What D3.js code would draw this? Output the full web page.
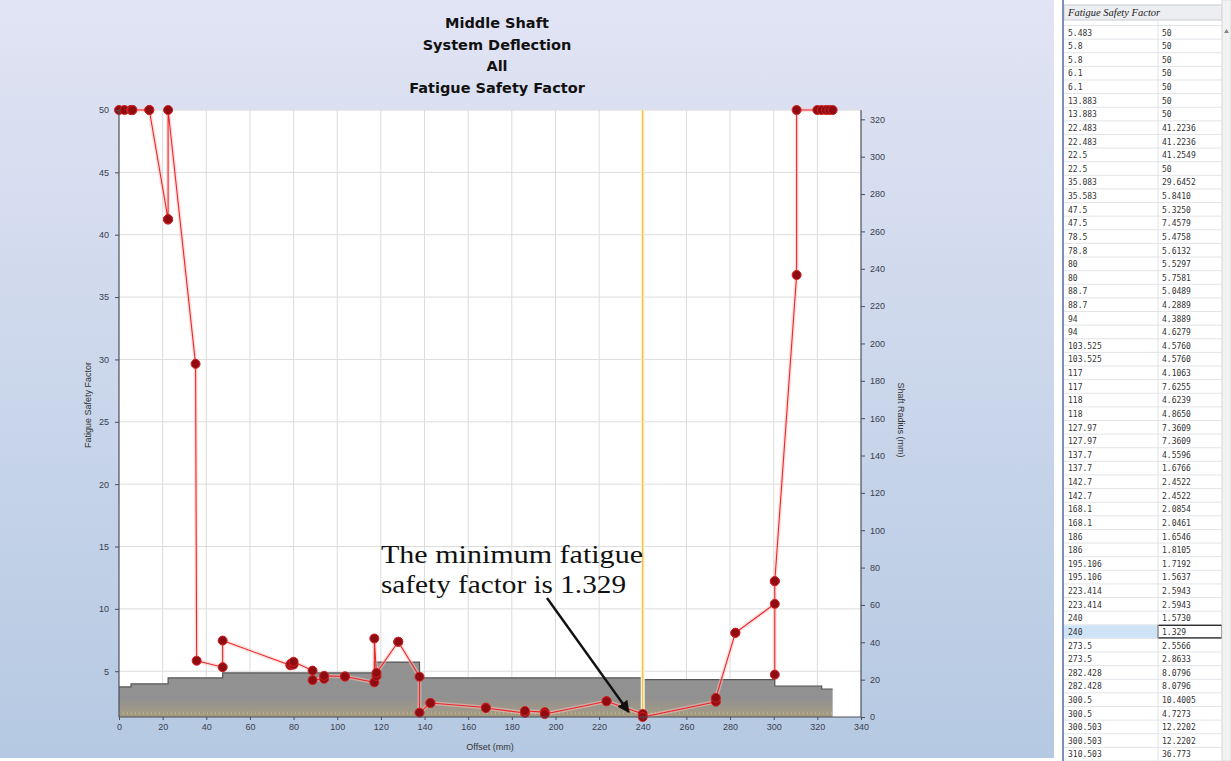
<!DOCTYPE html>
<html><head><meta charset="utf-8">
<script src="https://cdn.jsdelivr.net/npm/d3@7"></script>
<style>
html,body{margin:0;padding:0;background:#fff;}
svg{display:block;}
</style></head>
<body>
<svg id="c" width="1231" height="761"></svg>
<script>
// ---------- DATA ----------
const titleLines = ["Middle Shaft", "System Deflection", "All", "Fatigue Safety Factor"];
// fatigue safety factor curve (offset mm, factor)
const offsets = [0, 2.5, 5.483, 5.8, 5.8, 6.1, 6.1, 13.883, 13.883, 22.483, 22.483, 22.5, 22.5, 35.083, 35.583,
  47.5, 47.5, 78.5, 78.8, 80, 80, 88.7, 88.7, 94, 94, 103.525, 103.525, 117, 117, 118, 118, 127.97, 127.97,
  137.7, 137.7, 142.7, 142.7, 168.1, 168.1, 186, 186, 195.106, 195.106, 223.414, 223.414, 240, 240,
  273.5, 273.5, 282.428, 282.428, 300.5, 300.5, 300.503, 300.503, 310.503, 310.503, 320, 322, 324, 325.5, 327];
const factors = [50, 50, 50, 50, 50, 50, 50, 50, 50, 41.2236, 41.2236, 41.2549, 50, 29.6452, 5.8410,
  5.3250, 7.4579, 5.4758, 5.6132, 5.5297, 5.7581, 5.0489, 4.2889, 4.3889, 4.6279, 4.5760, 4.5760, 4.1063, 7.6255, 4.6239, 4.8650, 7.3609, 7.3609,
  4.5596, 1.6766, 2.4522, 2.4522, 2.0854, 2.0461, 1.6546, 1.8105, 1.7192, 1.5637, 2.5943, 2.5943, 1.5730, 1.329,
  2.5566, 2.8633, 8.0796, 8.0796, 10.4005, 4.7273, 12.2202, 12.2202, 36.773, 50, 50, 50, 50, 50, 50];
// shaft outer radius profile (step start offset, radius mm)
const shaftOffsets = [0, 5.5, 22.5, 47.5, 117, 137.7, 240, 300.5, 322, 327];
const shaftRadius  = [16.1, 17.7, 20.9, 23.6, 29.4, 20.9, 20.0, 16.6, 15.0, 15.0];
const xTicks = [0,20,40,60,80,100,120,140,160,180,200,220,240,260,280,300,320,340];
const yLeftTicks = [5,10,15,20,25,30,35,40,45,50];
const yRightTicks = [0,20,40,60,80,100,120,140,160,180,200,220,240,260,280,300,320];
const minOffset = 240, minFactor = 1.329;
const annotationLines = ["The minimum fatigue", "safety factor is 1.329"];
// results table (visible rows)
const tableHeader = "Fatigue Safety Factor";
const tableOffsets = ["5.483","5.8","5.8","6.1","6.1","13.883","13.883","22.483","22.483","22.5","22.5","35.083","35.583",
  "47.5","47.5","78.5","78.8","80","80","88.7","88.7","94","94","103.525","103.525","117","117","118","118","127.97","127.97",
  "137.7","137.7","142.7","142.7","168.1","168.1","186","186","195.106","195.106","223.414","223.414","240","240",
  "273.5","273.5","282.428","282.428","300.5","300.5","300.503","300.503","310.503"];
const tableValues = ["50","50","50","50","50","50","50","41.2236","41.2236","41.2549","50","29.6452","5.8410",
  "5.3250","7.4579","5.4758","5.6132","5.5297","5.7581","5.0489","4.2889","4.3889","4.6279","4.5760","4.5760","4.1063","7.6255","4.6239","4.8650","7.3609","7.3609",
  "4.5596","1.6766","2.4522","2.4522","2.0854","2.0461","1.6546","1.8105","1.7192","1.5637","2.5943","2.5943","1.5730","1.329",
  "2.5566","2.8633","8.0796","8.0796","10.4005","4.7273","12.2202","12.2202","36.773"];
const selectedRow = 44;

// ---------- LAYOUT ----------
const svg = d3.select("#c");
const W = 1231, H = 761;
const plot = {l:119, r:861, t:110, b:717};
const x = d3.scaleLinear().domain([0,340]).range([plot.l, plot.r]);
const yL = d3.scaleLinear().domain([minFactor,50]).range([plot.b, plot.t]);
const yR = d3.scaleLinear().domain([0,325]).range([plot.b, plot.t]);
const font = "'Liberation Sans', Arial, sans-serif";

const defs = svg.append("defs");
const bg = defs.append("linearGradient").attr("id","bg").attr("x1",0).attr("y1",0).attr("x2",0).attr("y2",1);
bg.append("stop").attr("offset","0").attr("stop-color","#e1e4f4");
bg.append("stop").attr("offset","1").attr("stop-color","#b5c9e2");
const sg = defs.append("linearGradient").attr("id","shaftg").attr("x1",0).attr("y1",0).attr("x2",0).attr("y2",1);
sg.append("stop").attr("offset","0").attr("stop-color","#929292");
sg.append("stop").attr("offset","0.65").attr("stop-color","#919191");
sg.append("stop").attr("offset","1").attr("stop-color","#a69c82");

svg.append("rect").attr("width",W).attr("height",H).attr("fill","#fff");
svg.append("rect").attr("x",0).attr("y",0).attr("width",1054).attr("height",758).attr("fill","url(#bg)");
svg.append("rect").attr("x",plot.l).attr("y",plot.t).attr("width",plot.r-plot.l).attr("height",plot.b-plot.t).attr("fill","#fff");

// grid
const g = svg.append("g");
g.selectAll(".vg").data(xTicks.slice(1,-1)).enter().append("line")
  .attr("x1",d=>x(d)).attr("x2",d=>x(d)).attr("y1",plot.t).attr("y2",plot.b)
  .attr("stroke","#dcdcdc").attr("stroke-width",1);
g.selectAll(".hg").data(yLeftTicks).enter().append("line")
  .attr("x1",plot.l).attr("x2",plot.r).attr("y1",d=>yL(d)).attr("y2",d=>yL(d))
  .attr("stroke","#dcdcdc").attr("stroke-width",1);

// shaft profile
const shaftPts = [];
shaftOffsets.forEach((o,i)=>{
  if(i<shaftOffsets.length-1){ shaftPts.push([o, shaftRadius[i]]); shaftPts.push([shaftOffsets[i+1], shaftRadius[i]]); }
});
const area = d3.area().x(d=>x(d[0])).y0(yR(0)).y1(d=>yR(d[1]));
const lineS = d3.line().x(d=>x(d[0])).y(d=>yR(d[1]));
svg.append("path").datum(shaftPts).attr("d",area).attr("fill","url(#shaftg)");
svg.append("path").datum(shaftPts).attr("d",lineS).attr("fill","none").attr("stroke","#555").attr("stroke-width",1.2);
svg.append("line").attr("x1",x(0)).attr("x2",x(327)).attr("y1",plot.b-4).attr("y2",plot.b-4)
  .attr("stroke","#c8b890").attr("stroke-width",3).attr("stroke-dasharray","1,3").attr("opacity",0.6);

// orange marker line at minimum
svg.append("line").attr("x1",x(minOffset)).attr("x2",x(minOffset)).attr("y1",plot.t).attr("y2",plot.b)
  .attr("stroke","#fff3c8").attr("stroke-width",4);
svg.append("line").attr("x1",x(minOffset)).attr("x2",x(minOffset)).attr("y1",plot.t).attr("y2",plot.b)
  .attr("stroke","#e6b040").attr("stroke-width",1);

// factor line
const pts = offsets.map((o,i)=>[o,factors[i]]);
const lineF = d3.line().x(d=>x(d[0])).y(d=>yL(d[1]));
svg.append("path").datum(pts).attr("d",lineF).attr("fill","none").attr("stroke","#ffc0c0").attr("stroke-width",4).attr("opacity",0.5);
svg.append("path").datum(pts).attr("d",lineF).attr("fill","none").attr("stroke","#e82828").attr("stroke-width",1.1);
svg.selectAll(".pt").data(pts).enter().append("circle")
  .attr("cx",d=>x(d[0])).attr("cy",d=>yL(d[1])).attr("r",4.5)
  .attr("fill","#8e0c12").attr("stroke","#d42020").attr("stroke-width",1);

// axes
const axL = svg.append("g").attr("transform",`translate(${plot.l},0)`)
  .call(d3.axisLeft(yL).tickValues(yLeftTicks).tickSize(4).tickPadding(6).tickFormat(d3.format("d")));
const axR = svg.append("g").attr("transform",`translate(${plot.r},0)`)
  .call(d3.axisRight(yR).tickValues(yRightTicks).tickSize(4).tickPadding(5).tickFormat(d3.format("d")));
const axB = svg.append("g").attr("transform",`translate(0,${plot.b})`)
  .call(d3.axisBottom(x).tickValues(xTicks).tickSize(3).tickPadding(4).tickFormat(d3.format("d")));
[axL,axR,axB].forEach(a=>{
  a.select(".domain").attr("stroke","#4a4f5a").attr("stroke-width",1.2);
  a.selectAll(".tick line").attr("stroke","#4a4f5a");
  a.selectAll(".tick text").attr("fill","#3a4050").style("font-family",font).style("font-size","9px");
});
axL.select(".domain").attr("d",`M0,${plot.t}V${plot.b}`);
axR.select(".domain").attr("d",`M0,${plot.t}V${plot.b}`);
axB.select(".domain").attr("d",`M${plot.l},0H${plot.r}`);

// axis titles
svg.append("text").attr("transform",`translate(91,405) rotate(-90)`).attr("text-anchor","middle")
  .style("font-family",font).style("font-size","9px").attr("fill","#333").text("Fatigue Safety Factor");
svg.append("text").attr("transform",`translate(898,420) rotate(90)`).attr("text-anchor","middle")
  .style("font-family",font).style("font-size","9px").attr("fill","#333").text("Shaft Radius (mm)");
svg.append("text").attr("x",490).attr("y",750).attr("text-anchor","middle")
  .style("font-family",font).style("font-size","9px").attr("fill","#333").text("Offset (mm)");

// title
svg.selectAll(".title").data(titleLines).enter().append("text")
  .attr("x",497).attr("y",(d,i)=>28+i*21.7).attr("text-anchor","middle")
  .style("font-family","'DejaVu Sans', Verdana, sans-serif").style("font-size","14.5px").style("font-weight","bold").attr("fill","#111").text(d=>d);

// annotation
const annW = [262, 245];
svg.selectAll(".ann").data(annotationLines).enter().append("text")
  .attr("x",381).attr("y",(d,i)=>563+i*29.5)
  .attr("textLength",(d,i)=>annW[i]).attr("lengthAdjust","spacingAndGlyphs")
  .style("font-family","'Liberation Serif','Times New Roman',serif").style("font-size","26px").attr("fill","#111").text(d=>d);
defs.append("marker").attr("id","arr").attr("viewBox","0 0 10 10").attr("refX",9).attr("refY",5)
  .attr("markerWidth",5).attr("markerHeight",5).attr("orient","auto")
  .append("path").attr("d","M0,0L10,5L0,10z").attr("fill","#111");
svg.append("line").attr("x1",547).attr("y1",598).attr("x2",x(minOffset)-14).attr("y2",yL(minFactor)-5)
  .attr("stroke","#111").attr("stroke-width",2.4).attr("marker-end","url(#arr)");

// ---------- TABLE ----------
const tX = 1062, tW = 160, rowH = 13.62, firstY = 25.5;
const tg = svg.append("g");
tg.append("rect").attr("x",tX).attr("y",0).attr("width",W-tX).attr("height",H).attr("fill","#fff");
// partially hidden row just under the header
tg.append("line").attr("x1",tX).attr("x2",tX+tW).attr("y1",firstY).attr("y2",firstY).attr("stroke","#e2e4e8");
const rows = tg.selectAll(".row").data(tableOffsets).enter().append("g")
  .attr("transform",(d,i)=>`translate(0,${firstY + i*rowH})`);
rows.append("line").attr("x1",tX).attr("x2",tX+tW).attr("y1",rowH).attr("y2",rowH).attr("stroke","#e2e4e8");
rows.filter((d,i)=>i===selectedRow).append("rect").attr("x",tX+2).attr("y",0.5).attr("width",94).attr("height",rowH-1).attr("fill","#cfe3f7");
rows.filter((d,i)=>i===selectedRow).append("rect").attr("x",tX+96).attr("y",0.5).attr("width",64).attr("height",rowH-1).attr("fill","#fff").attr("stroke","#111").attr("stroke-width",1.2);
rows.append("text").attr("x",tX+6).attr("y",rowH-3.5).style("font-family","'DejaVu Sans Mono',monospace").style("font-size","8px").attr("fill","#333").text(d=>d);
rows.append("text").attr("x",tX+100).attr("y",rowH-3.5).style("font-family","'DejaVu Sans Mono',monospace").style("font-size","8px").attr("fill","#333").text((d,i)=>tableValues[i]);
tg.append("rect").attr("x",tX).attr("y",0).attr("width",W-tX).attr("height",5).attr("fill","#fff");
tg.append("rect").attr("x",tX+2).attr("y",5).attr("width",tW-2).attr("height",15).attr("fill","#eceef2").attr("stroke","#c8ccd4");
tg.append("text").attr("x",tX+6).attr("y",16).style("font-family","'Liberation Serif',serif").style("font-style","italic")
  .style("font-size","10.5px").attr("fill","#222").text(tableHeader);
tg.append("line").attr("x1",tX+96).attr("x2",tX+96).attr("y1",20).attr("y2",H).attr("stroke","#e0e2e6");
tg.append("line").attr("x1",tX+1).attr("x2",tX+1).attr("y1",0).attr("y2",H).attr("stroke","#7c8fb8").attr("stroke-width",2);
tg.append("rect").attr("x",1222).attr("y",0).attr("width",9).attr("height",H).attr("fill","#f2f2f2").attr("stroke","#d8d8d8");
tg.append("path").attr("d","M1224,33L1229,33L1226.5,29z").attr("fill","#888");
</script>
</body></html>
